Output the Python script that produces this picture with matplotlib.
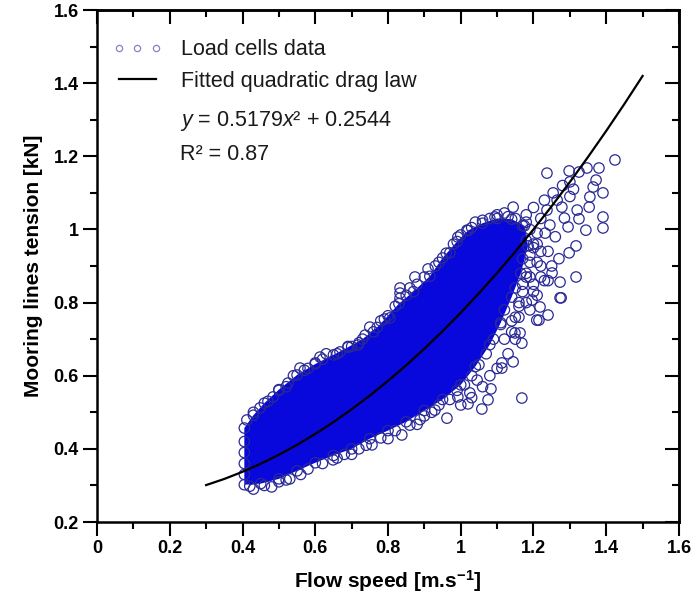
import numpy as np
import matplotlib.pyplot as plt
from matplotlib.lines import Line2D

plt.rcParams['font.family'] = ['Liberation Sans', 'DejaVu Sans']
plt.rcParams['mathtext.fontset'] = 'custom'
plt.rcParams['mathtext.rm'] = 'Liberation Sans'
plt.rcParams['mathtext.it'] = 'Liberation Sans:italic'
plt.rcParams['mathtext.bf'] = 'Liberation Sans:bold'

# outline of the dense part of the load cell cloud
core_x = [0.405, 0.45, 0.50, 0.55, 0.60, 0.65, 0.70, 0.75, 0.80, 0.85, 0.90, 0.95,
          1.00, 1.04, 1.08, 1.11, 1.14, 1.165, 1.185,
          1.175, 1.14, 1.10, 1.06, 1.02, 0.99, 0.95, 0.915, 0.87, 0.83, 0.80,
          0.77, 0.73, 0.69, 0.65, 0.60, 0.55, 0.50, 0.46, 0.43, 0.405,
          0.405, 0.405, 0.405, 0.405]
core_y = [0.302, 0.305, 0.318, 0.340, 0.362, 0.382, 0.400, 0.428, 0.450, 0.474, 0.505, 0.535,
          0.575, 0.625, 0.685, 0.745, 0.815, 0.880, 0.955,
          1.010, 1.028, 1.030, 1.017, 0.997, 0.967, 0.922, 0.872, 0.830, 0.797, 0.764,
          0.732, 0.700, 0.678, 0.657, 0.632, 0.602, 0.562, 0.525, 0.492, 0.457,
          0.42, 0.39, 0.36, 0.33]

# loose load cell points round the edge of the cloud
pts_x = [0.412, 0.448, 0.484, 0.525, 0.558, 0.613, 0.668, 0.718, 0.737, 0.750, 0.805,
         0.833, 0.833, 0.833, 0.874, 0.910, 0.970, 0.992, 1.017, 1.094, 1.144,
         0.52, 0.58, 0.63, 0.69, 0.78, 0.86, 0.94, 1.04, 1.12,
         0.43, 0.48, 0.53, 0.649, 0.70, 0.756, 0.80, 0.838, 0.88, 0.888, 0.929,
         0.962, 0.992, 1.020, 1.025, 1.045, 1.058, 1.075, 1.083, 1.113, 1.113,
         1.144, 1.168, 1.149, 1.168, 1.163, 1.209, 1.215, 1.240, 1.218, 1.196,
         1.273, 1.276, 1.273, 1.317, 1.251, 1.298, 1.317, 1.20, 1.22, 1.19,
         1.237, 1.298, 1.325, 1.347, 1.380, 1.424, 1.372, 1.364, 1.391, 1.355,
         1.353, 1.391, 1.391, 1.344, 1.325, 1.295, 1.254, 1.300, 1.278, 1.320,
         1.285, 1.265, 1.237, 1.245, 1.232, 1.21, 1.22, 1.20, 1.18, 1.26,
         1.24, 1.27, 1.21, 1.19, 1.23, 1.30, 1.28, 1.31,
         1.18, 1.17, 1.19, 1.21, 1.23, 1.25, 1.16, 1.20, 1.22, 1.24, 1.18, 1.15,
         # right side, medium density
         1.12, 1.14, 1.16, 1.17, 1.18, 1.19, 1.20, 1.18, 1.15, 1.13, 1.10, 1.08,
         1.06, 1.03, 1.00, 1.12, 1.15, 1.17, 1.19, 1.21, 1.22, 1.20, 1.18, 1.16, 1.14,
         # upper edge
         0.43, 0.47, 0.50, 0.54, 0.57, 0.60, 0.62, 0.66, 0.70, 0.72, 0.76, 0.79, 0.82,
         0.85, 0.88, 0.90, 0.93, 0.96, 0.98, 1.00, 1.03, 1.06, 1.08, 1.10, 1.13, 1.15, 1.17,
         # lower edge
         0.42, 0.46, 0.50, 0.52, 0.56, 0.58, 0.62, 0.66, 0.68, 0.72, 0.74, 0.78, 0.82,
         0.86, 0.90, 0.92, 0.94, 0.97, 0.99, 1.01, 1.03, 1.05, 1.07, 1.09, 1.11]
pts_y = [0.479, 0.512, 0.542, 0.580, 0.621, 0.651, 0.665, 0.684, 0.711, 0.733, 0.758,
         0.840, 0.826, 0.812, 0.870, 0.892, 0.936, 0.979, 0.998, 1.034, 1.061,
         0.570, 0.620, 0.660, 0.680, 0.750, 0.840, 0.910, 1.020, 1.045,
         0.290, 0.296, 0.318, 0.370, 0.385, 0.411, 0.428, 0.438, 0.467, 0.480, 0.506,
         0.484, 0.542, 0.523, 0.553, 0.588, 0.509, 0.534, 0.564, 0.621, 0.635,
         0.638, 0.689, 0.717, 0.539, 0.717, 0.752, 0.752, 0.766, 0.788, 0.807,
         0.813, 0.813, 0.856, 0.870, 0.881, 0.936, 0.955, 0.850, 0.900, 0.930,
         1.154, 1.160, 1.157, 1.168, 1.168, 1.190, 1.135, 1.116, 1.100, 1.089,
         1.061, 1.034, 1.004, 0.998, 1.029, 1.007, 1.100, 1.130, 1.061, 1.053,
         1.031, 1.080, 1.053, 1.012, 0.990, 0.960, 1.030, 1.060, 1.040, 0.980,
         0.940, 0.920, 0.990, 1.000, 1.080, 1.090, 1.120, 1.110,
         0.870, 0.830, 0.780, 0.820, 0.860, 0.900, 0.790, 0.960, 0.940, 0.860, 1.020, 0.760,
         0.700, 0.750, 0.800, 0.850, 0.880, 0.910, 0.950, 0.970, 0.700, 0.660, 0.620, 0.600,
         0.570, 0.540, 0.520, 0.780, 0.840, 0.920, 0.870, 0.910, 0.870, 0.830, 0.800, 0.760, 0.720,
         0.500, 0.530, 0.560, 0.600, 0.615, 0.635, 0.645, 0.660, 0.680, 0.690, 0.720, 0.755, 0.790,
         0.820, 0.850, 0.870, 0.900, 0.935, 0.960, 0.985, 1.005, 1.025, 1.030, 1.040, 1.035, 1.030, 1.010,
         0.298, 0.300, 0.310, 0.315, 0.330, 0.345, 0.360, 0.375, 0.385, 0.400, 0.410, 0.430, 0.450,
         0.465, 0.490, 0.500, 0.520, 0.535, 0.560, 0.575, 0.600, 0.630, 0.660, 0.700, 0.740]

# fitted quadratic drag law, y = 0.5179x^2 + 0.2544
fit_x = [0.30, 0.35, 0.40, 0.45, 0.50, 0.55, 0.60, 0.65, 0.70, 0.75, 0.80, 0.85, 0.90,
         0.95, 1.00, 1.05, 1.10, 1.15, 1.20, 1.25, 1.30, 1.35, 1.40, 1.45, 1.50]
fit_y = [0.3010, 0.3178, 0.3373, 0.3593, 0.3839, 0.4111, 0.4408, 0.4732, 0.5082, 0.5457,
         0.5859, 0.6286, 0.6739, 0.7218, 0.7723, 0.8254, 0.8811, 0.9393, 1.0002, 1.0636,
         1.1297, 1.1983, 1.2695, 1.3433, 1.4197]

xticks = [0, 0.2, 0.4, 0.6, 0.8, 1.0, 1.2, 1.4, 1.6]
xlabels = ['0', '0.2', '0.4', '0.6', '0.8', '1', '1.2', '1.4', '1.6']
yticks = [0.2, 0.4, 0.6, 0.8, 1.0, 1.2, 1.4, 1.6]
ylabels = ['0.2', '0.4', '0.6', '0.8', '1', '1.2', '1.4', '1.6']

core_col = '#0808dc'
ring_col = '#2a2a96'

fig = plt.figure(figsize=(6.92, 6.03), dpi=100)
ax = fig.add_axes([0.1402, 0.1343, 0.8410, 0.8491])

ax.fill(core_x, core_y, color=core_col, lw=0, zorder=1)
ax.scatter(core_x, core_y, s=56, facecolors='none', edgecolors=ring_col, linewidths=0.9, zorder=2)
ax.scatter(pts_x, pts_y, s=56, facecolors='none', edgecolors=ring_col, linewidths=0.9, zorder=2)
ax.plot(fit_x, fit_y, color='black', lw=1.6, zorder=3)

ax.set_xlim(0, 1.6)
ax.set_ylim(0.2, 1.6)
ax.set_xticks(xticks)
ax.set_xticklabels(xlabels)
ax.set_yticks(yticks)
ax.set_yticklabels(ylabels)
ax.set_xticks(np.arange(0.1, 1.6, 0.2), minor=True)
ax.set_yticks(np.arange(0.3, 1.6, 0.2), minor=True)

for s in ax.spines.values():
    s.set_linewidth(1.8)
ax.tick_params(which='both', width=1.5, direction='out', labelsize=13)
ax.tick_params(which='major', length=10)
ax.tick_params(which='minor', length=5)
ax.tick_params(axis='x', which='major', pad=3)
ax.tick_params(axis='y', which='major', pad=3)
for lab in ax.get_xticklabels() + ax.get_yticklabels():
    lab.set_fontweight('bold')

# inward ticks on top and right
top = ax.secondary_xaxis('top')
top.set_xticks(xticks)
top.set_xticks(np.arange(0.1, 1.6, 0.2), minor=True)
top.tick_params(which='both', direction='in', width=1.5, labeltop=False)
top.tick_params(which='major', length=10)
top.tick_params(which='minor', length=5)
right = ax.secondary_yaxis('right')
right.set_yticks(yticks)
right.set_yticks(np.arange(0.3, 1.6, 0.2), minor=True)
right.tick_params(which='both', direction='in', width=1.5, labelright=False)
right.tick_params(which='major', length=10)
right.tick_params(which='minor', length=5)
top.spines['top'].set_linewidth(1.8)
right.spines['right'].set_linewidth(1.8)

ax.set_xlabel(r'Flow speed [m.s$^{\mathbf{-1}}$]', fontsize=15, fontweight='bold', labelpad=8)
ax.set_ylabel('Mooring lines tension [kN]', fontsize=15, fontweight='bold', labelpad=8)

h1 = Line2D([], [], ls='none', marker='o', markersize=4.5, mfc='none', mec='#8484c4', mew=0.9)
h2 = Line2D([], [], color='black', lw=1.6)
ax.legend([h1, h2], ['Load cells data', 'Fitted quadratic drag law'],
          loc='upper left', bbox_to_anchor=(0.027, 0.943), borderaxespad=0, borderpad=0,
          frameon=False, numpoints=3, handlelength=2.3, handletextpad=0.85,
          labelspacing=0.5, prop={'size': 15.5}, labelcolor='#1a1a1a')
ax.text(0.1425, 0.783, r'$\mathit{y}$ = 0.5179$\mathit{x}$² + 0.2544', transform=ax.transAxes,
        fontsize=15.5, color='#1a1a1a', va='center', ha='left')
ax.text(0.1425, 0.718, 'R² = 0.87', transform=ax.transAxes,
        fontsize=15.5, color='#1a1a1a', va='center', ha='left')

fig.savefig('out.png', dpi=100)
